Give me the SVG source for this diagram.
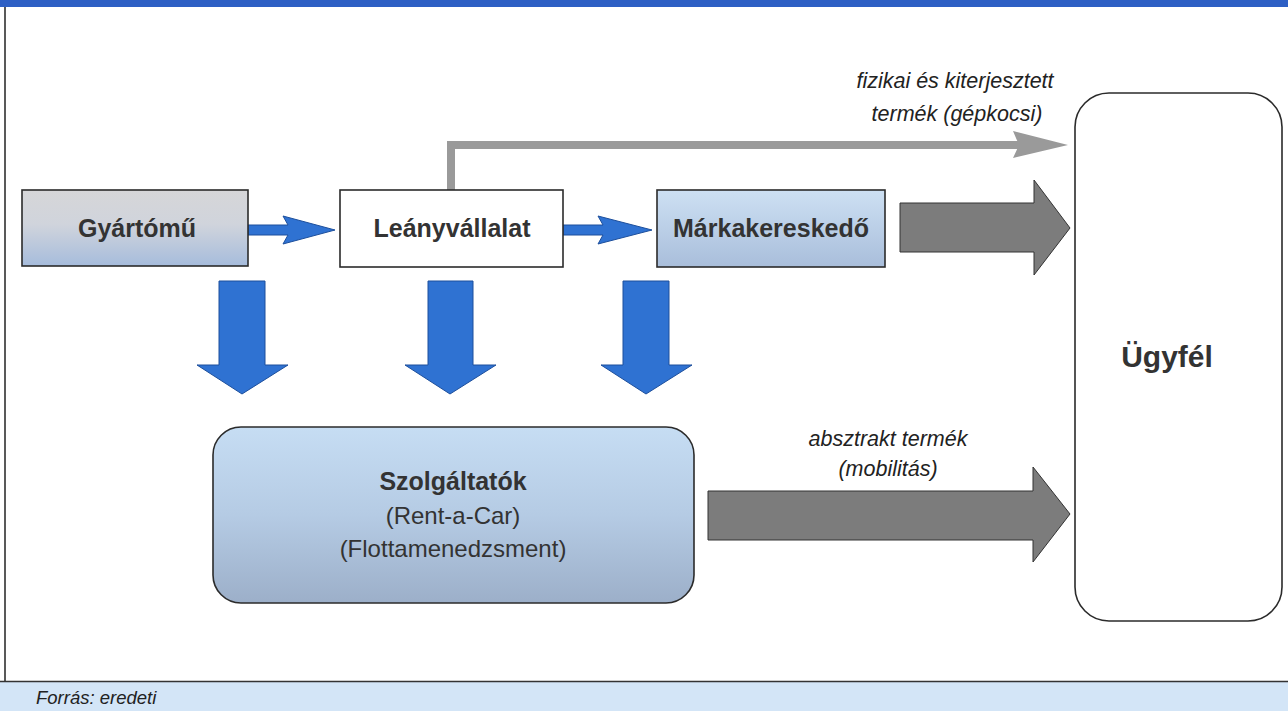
<svg xmlns="http://www.w3.org/2000/svg" width="1288" height="711" viewBox="0 0 1288 711">
<defs>
<linearGradient id="gGyar" x1="0" y1="0" x2="0" y2="1">
<stop offset="0" stop-color="#d6d6d8"/>
<stop offset="0.45" stop-color="#d0d4dc"/>
<stop offset="1" stop-color="#a6bcdc"/>
</linearGradient>
<linearGradient id="gMark" x1="0" y1="0" x2="0" y2="1">
<stop offset="0" stop-color="#cde0f3"/>
<stop offset="1" stop-color="#a9bedb"/>
</linearGradient>
<linearGradient id="gSzol" x1="0" y1="0" x2="0" y2="1">
<stop offset="0" stop-color="#c6ddf3"/>
<stop offset="0.5" stop-color="#b5cbe4"/>
<stop offset="1" stop-color="#9cafc9"/>
</linearGradient>
<style>
.box{stroke:#2b2b2b;stroke-width:1.6}
.lbl{font-family:"Liberation Sans",Arial,sans-serif;font-weight:bold;font-size:25px;fill:#333;text-anchor:middle}
.big{font-size:30px}
.sub{font-family:"Liberation Sans",Arial,sans-serif;font-size:24px;fill:#333;text-anchor:middle}
.note{font-family:"Liberation Sans",Arial,sans-serif;font-style:italic;font-size:21.5px;fill:#222;text-anchor:middle}
.blue{fill:#2f72d2;stroke:#1d4f9c;stroke-width:1}
.bigg{fill:#7c7c7c;stroke:#333;stroke-width:1}
</style>
</defs>
<rect x="0" y="0" width="1288" height="711" fill="#ffffff"/>
<g id="frame">
<rect x="0" y="0" width="1288" height="7" fill="#2d5fc4"/>
<line x1="5" y1="7" x2="5" y2="681" stroke="#222" stroke-width="1.5"/>
<rect x="0" y="682" width="1288" height="29" fill="#d3e5f7"/>
<line x1="0" y1="681.5" x2="1288" y2="681.5" stroke="#333" stroke-width="1.5"/>
<text x="36" y="704" font-family="'Liberation Sans',Arial,sans-serif" font-style="italic" font-size="18.5px" fill="#222">Forrás: eredeti</text>
</g>
<g id="connectors">
<polygon class="blue" points="248,225 288,225 283,216 335,230 283,244 288,235 248,235"/>
<polygon class="blue" points="563,225 603,225 598,216 652,230 598,244 603,235 563,235"/>
<polyline points="451,190 451,145 1020,145" fill="none" stroke="#9a9a9a" stroke-width="8"/>
<polygon points="1013,131 1068,145 1013,158 1019,145" fill="#9a9a9a"/>
<polygon class="bigg" points="900,203 1034,203 1034,180 1070,228 1034,275 1034,252 900,252"/>
<polygon class="bigg" points="708,491 1033,491 1033,467 1070,514 1033,562 1033,540 708,540"/>
<polygon class="blue" points="219,281 265,281 265,365 288,365 242,394 197,365 219,365"/>
<polygon class="blue" points="428,281 473,281 473,365 496,365 450,394 405,365 428,365"/>
<polygon class="blue" points="623,281 669,281 669,365 692,365 646,394 601,365 623,365"/>
<text class="note" x="955" y="88">fizikai és kiterjesztett</text>
<text class="note" x="957" y="121">termék (gépkocsi)</text>
<text class="note" x="888" y="446">absztrakt termék</text>
<text class="note" x="888" y="476">(mobilitás)</text>
</g>
<g id="gyartomu">
<rect class="box" x="22" y="190" width="226" height="76" fill="url(#gGyar)"/>
<text class="lbl" x="137" y="237">Gyártómű</text>
</g>
<g id="leanyvallalat">
<rect class="box" x="340" y="190" width="223" height="77" fill="#ffffff"/>
<text class="lbl" x="452" y="237">Leányvállalat</text>
</g>
<g id="markakereskedo">
<rect class="box" x="657" y="190" width="228" height="77" fill="url(#gMark)"/>
<text class="lbl" x="771" y="237">Márkakereskedő</text>
</g>
<g id="szolgaltatok">
<rect class="box" x="213" y="427" width="481" height="176" rx="28" ry="28" fill="url(#gSzol)"/>
<text class="lbl" x="453" y="490">Szolgáltatók</text>
<text class="sub" x="453" y="524">(Rent-a-Car)</text>
<text class="sub" x="453" y="557">(Flottamenedzsment)</text>
</g>
<g id="ugyfel">
<rect class="box" x="1075" y="93" width="207" height="528" rx="34" ry="34" fill="#ffffff" stroke-width="2"/>
<text class="lbl big" x="1167" y="367">Ügyfél</text>
</g>
</svg>
